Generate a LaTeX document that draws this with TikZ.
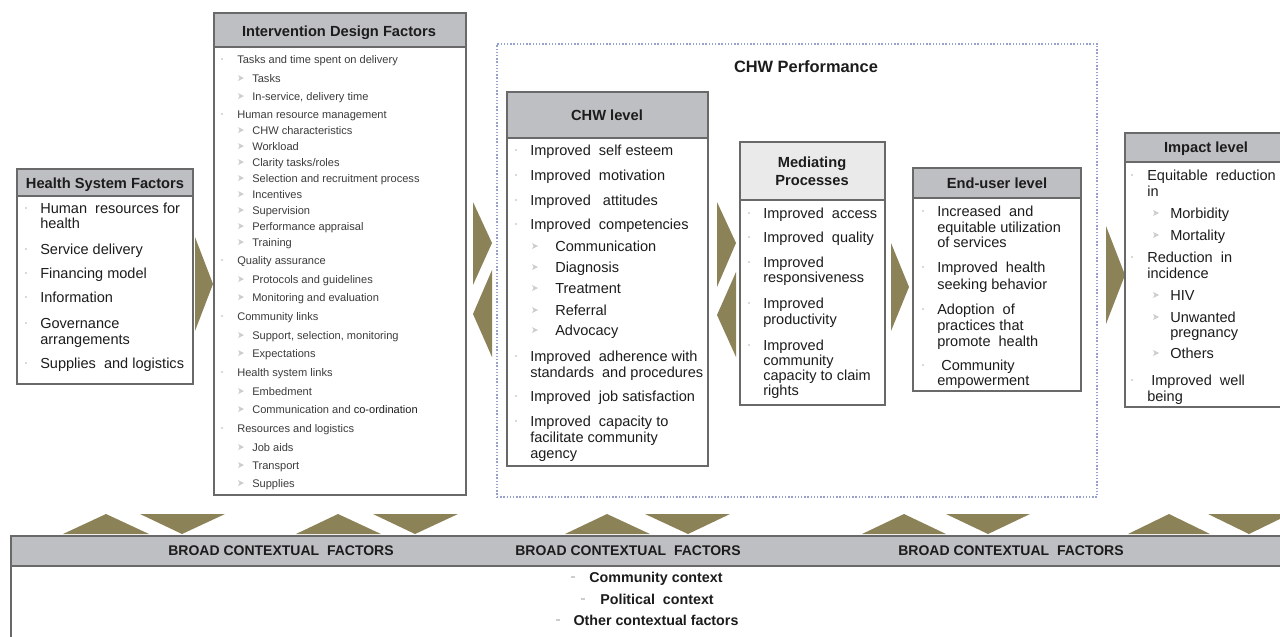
\documentclass[tikz,border=0pt]{standalone}
\usepackage{fontspec}
\setmainfont{Liberation Sans}
\usetikzlibrary{fit}
\definecolor{boxgray}{RGB}{105,105,105}
\definecolor{hdrgray}{RGB}{190,191,195}
\definecolor{hdrlight}{RGB}{234,234,234}
\definecolor{bulgray}{RGB}{205,205,205}
\definecolor{chevcol}{RGB}{140,130,88}
\definecolor{dotcol}{RGB}{150,162,205}
\definecolor{txtmain}{RGB}{28,28,28}
\definecolor{txtsmall}{RGB}{60,60,60}
\newcommand{\bdot}[2]{\fill[bulgray] (#1,#2) circle (0.85pt);}
\newcommand{\barr}[2]{\fill[bulgray] (#1,#2) ++(-3,-3) -- ++(6,3) -- ++(-6,3) -- ++(1.6,-3) -- cycle;}
\begin{document}
\begin{tikzpicture}[x=0.75pt,y=-0.75pt,
  box/.style={draw=boxgray,line width=1.1pt,fill=white,inner sep=0pt},
  hdr/.style={draw=boxgray,line width=1.1pt,fill=hdrgray,inner sep=0pt},
  htxt/.style={anchor=base,inner sep=0pt,text=txtmain,font=\bfseries\fontsize{11}{13}\selectfont},
  itm/.style={anchor=base west,inner sep=0pt,text=txtmain,font=\fontsize{10.9}{13}\selectfont},
  sitm/.style={anchor=base west,inner sep=0pt,text=txtsmall,font=\fontsize{8.3}{10}\selectfont},
  chev/.style={fill=chevcol},
  ctx/.style={anchor=base,inner sep=0pt,text=txtmain,font=\bfseries\fontsize{10.5}{12}\selectfont}]
\useasboundingbox (0,0) rectangle (1280,636);
\clip (0,0) rectangle (1280,636);
\fill[white] (0,0) rectangle (1280,636);

% CHW performance dotted frame
\node[draw=dotcol,line width=0.9pt,dash pattern=on 1.1pt off 1.3pt,inner sep=0pt,fit={(497,44) (1097,497)}] (perf) {};
\node[anchor=base,inner sep=0pt,text=txtmain,font=\bfseries\fontsize{12.3}{14}\selectfont] (perft) at (806,72) {CHW Performance};

% chevrons between boxes
\fill[chev] (195,237) -- (213,284) -- (195,331) -- cycle;
\fill[chev] (473,202) -- (492,243) -- (473,285) -- cycle;
\fill[chev] (492,270) -- (492,357) -- (473,314) -- cycle;
\fill[chev] (717,202) -- (736,243) -- (717,287) -- cycle;
\fill[chev] (736,272) -- (736,357) -- (717,315) -- cycle;
\fill[chev] (891,243) -- (909,287) -- (891,331) -- cycle;
\fill[chev] (1106,226) -- (1125,275) -- (1106,324) -- cycle;

% triangles above contextual band
\fill[chev] (63,534) -- (106,514) -- (149,534) -- cycle;
\fill[chev] (140,514) -- (225,514) -- (182,534) -- cycle;
\fill[chev] (296,534) -- (338,514) -- (381,534) -- cycle;
\fill[chev] (373,514) -- (458,514) -- (415,534) -- cycle;
\fill[chev] (565,534) -- (607,514) -- (650,534) -- cycle;
\fill[chev] (645,514) -- (730,514) -- (688,534) -- cycle;
\fill[chev] (862,534) -- (904,514) -- (946,534) -- cycle;
\fill[chev] (946,514) -- (1030,514) -- (988,534) -- cycle;
\fill[chev] (1128,534) -- (1169,514) -- (1210,534) -- cycle;
\fill[chev] (1208,514) -- (1290,514) -- (1249,534) -- cycle;

% ---------- Health System Factors ----------
\node[box,fit={(17,169) (193,384)}] (hsf) {};
\node[hdr,fit={(17,169) (193,196)}] (hsfh) {};
\node[htxt] (hsft) at (105,188) {Health System Factors};
\bdot{26}{208}\bdot{26}{249}\bdot{26}{273}\bdot{26}{297}\bdot{26}{323}\bdot{26}{363}
\node[itm] (h1) at (40,213) {Human\ \ resources for};
\node[itm] (h1b) at (40,228) {health};
\node[itm] (h2) at (40,254) {Service delivery};
\node[itm] (h3) at (40,278) {Financing model};
\node[itm] (h4) at (40,302) {Information};
\node[itm] (h5) at (40,328) {Governance};
\node[itm] (h5b) at (40,344) {arrangements};
\node[itm] (h6) at (40,368) {Supplies\ \ and logistics};

% ---------- Intervention Design Factors ----------
\node[box,fit={(214,13) (466,495)}] (idf) {};
\node[hdr,fit={(214,13) (466,47)}] (idfh) {};
\node[htxt] (idft) at (339,36) {Intervention Design Factors};
\bdot{222}{59}\bdot{222}{114}\bdot{222}{260}\bdot{222}{316}\bdot{222}{372}\bdot{222}{428}
\barr{241}{78}\barr{241}{96}
\barr{241}{130}\barr{241}{146}\barr{241}{162}\barr{241}{178}\barr{241}{194}\barr{241}{210}\barr{241}{226}\barr{241}{242}
\barr{241}{279}\barr{241}{297}\barr{241}{335}\barr{241}{353}\barr{241}{391}\barr{241}{409}
\barr{241}{447}\barr{241}{465}\barr{241}{483}
\node[sitm] (i1) at (237,63) {Tasks and time spent on delivery};
\node[sitm] (i2) at (252,82) {Tasks};
\node[sitm] (i3) at (252,100) {In-service, delivery time};
\node[sitm] (i4) at (237,118) {Human resource management};
\node[sitm] (i5) at (252,134) {CHW characteristics};
\node[sitm] (i6) at (252,150) {Workload};
\node[sitm] (i7) at (252,166) {Clarity tasks/roles};
\node[sitm] (i8) at (252,182) {Selection and recruitment process};
\node[sitm] (i9) at (252,198) {Incentives};
\node[sitm] (i10) at (252,214) {Supervision};
\node[sitm] (i11) at (252,230) {Performance appraisal};
\node[sitm] (i12) at (252,246) {Training};
\node[sitm] (i13) at (237,264) {Quality assurance};
\node[sitm] (i14) at (252,283) {Protocols and guidelines};
\node[sitm] (i15) at (252,301) {Monitoring and evaluation};
\node[sitm] (i16) at (237,320) {Community links};
\node[sitm] (i17) at (252,339) {Support, selection, monitoring};
\node[sitm] (i18) at (252,357) {Expectations};
\node[sitm] (i19) at (237,376) {Health system links};
\node[sitm] (i20) at (252,395) {Embedment};
\node[sitm] (i21) at (252,413) {Communication and \textcolor{txtmain}{co-ordination}};
\node[sitm] (i22) at (237,432) {Resources and logistics};
\node[sitm] (i23) at (252,451) {Job aids};
\node[sitm] (i24) at (252,469) {Transport};
\node[sitm] (i25) at (252,487) {Supplies};

% ---------- CHW level ----------
\node[box,fit={(507,92) (708,466)}] (chw) {};
\node[hdr,fit={(507,92) (708,138)}] (chwh) {};
\node[htxt] (chwt) at (607,120) {CHW level};
\bdot{516}{150}\bdot{516}{175}\bdot{516}{200}\bdot{516}{224}\bdot{516}{356}\bdot{516}{396}\bdot{516}{421}
\barr{535}{246}\barr{535}{267}\barr{535}{288}\barr{535}{310}\barr{535}{330}
\node[itm] (c1) at (530,155) {Improved\ \ self esteem};
\node[itm] (c2) at (530,180) {Improved\ \ motivation};
\node[itm] (c3) at (530,205) {Improved\ \ \ attitudes};
\node[itm] (c4) at (530,229) {Improved\ \ competencies};
\node[itm] (c5) at (555,251) {Communication};
\node[itm] (c6) at (555,272) {Diagnosis};
\node[itm] (c7) at (555,293) {Treatment};
\node[itm] (c8) at (555,315) {Referral};
\node[itm] (c9) at (555,335) {Advocacy};
\node[itm] (c10) at (530,361) {Improved\ \ adherence with};
\node[itm] (c10b) at (530,377) {standards\ \ and procedures};
\node[itm] (c11) at (530,401) {Improved\ \ job satisfaction};
\node[itm] (c12) at (530,426) {Improved\ \ capacity to};
\node[itm] (c12b) at (530,442) {facilitate community};
\node[itm] (c12c) at (530,458) {agency};

% ---------- Mediating Processes ----------
\node[box,fit={(740,142) (885,405)}] (med) {};
\node[hdr,fill=hdrlight,fit={(740,142) (885,200)}] (medh) {};
\node[htxt] (medt1) at (812,167) {Mediating};
\node[htxt] (medt2) at (812,185) {Processes};
\bdot{749}{213}\bdot{749}{237}\bdot{749}{262}\bdot{749}{303}\bdot{749}{345}
\node[itm] (m1) at (763,218) {Improved\ \ access};
\node[itm] (m2) at (763,242) {Improved\ \ quality};
\node[itm] (m3) at (763,267) {Improved};
\node[itm] (m3b) at (763,282) {responsiveness};
\node[itm] (m4) at (763,308) {Improved};
\node[itm] (m4b) at (763,324) {productivity};
\node[itm] (m5) at (763,350) {Improved};
\node[itm] (m5b) at (763,365) {community};
\node[itm] (m5c) at (763,380) {capacity to claim};
\node[itm] (m5d) at (763,395) {rights};

% ---------- End-user level ----------
\node[box,fit={(913,168) (1081,391)}] (end) {};
\node[hdr,fit={(913,168) (1081,198)}] (endh) {};
\node[htxt] (endt) at (997,188) {End-user level};
\bdot{923}{211}\bdot{923}{267}\bdot{923}{309}\bdot{923}{365}
\node[itm] (e1) at (937,216) {Increased\ \ and};
\node[itm] (e1b) at (937,232) {equitable utilization};
\node[itm] (e1c) at (937,247) {of services};
\node[itm] (e2) at (937,272) {Improved\ \ health};
\node[itm] (e2b) at (937,289) {seeking behavior};
\node[itm] (e3) at (937,314) {Adoption\ \ of};
\node[itm] (e3b) at (937,330) {practices that};
\node[itm] (e3c) at (937,346) {promote\ \ health};
\node[itm] (e4) at (941,370) {Community};
\node[itm] (e4b) at (937,385) {empowerment};

% ---------- Impact level ----------
\node[box,fit={(1125,133) (1284,407)}] (imp) {};
\node[hdr,fit={(1125,133) (1284,162)}] (imph) {};
\node[htxt] (impt) at (1206,152) {Impact level};
\bdot{1132}{175}\bdot{1132}{257}\bdot{1132}{380}
\barr{1156}{213}\barr{1156}{235}\barr{1156}{295}\barr{1156}{317}\barr{1156}{353}
\node[itm] (p1) at (1147,180) {Equitable\ \ reduction};
\node[itm] (p1b) at (1147,196) {in};
\node[itm] (p2) at (1170,218) {Morbidity};
\node[itm] (p3) at (1170,240) {Mortality};
\node[itm] (p4) at (1147,262) {Reduction\ \ in};
\node[itm] (p4b) at (1147,278) {incidence};
\node[itm] (p5) at (1170,300) {HIV};
\node[itm] (p6) at (1170,322) {Unwanted};
\node[itm] (p6b) at (1170,337) {pregnancy};
\node[itm] (p7) at (1170,358) {Others};
\node[itm] (p8) at (1151,385) {Improved\ \ well};
\node[itm] (p8b) at (1147,401) {being};

% ---------- Broad contextual factors ----------
\node[box,fit={(11,536) (1290,645)}] (ctx) {};
\node[hdr,fit={(11,536) (1290,566)}] (ctxh) {};
\node[ctx] (b1) at (281,555) {BROAD CONTEXTUAL\ \ FACTORS};
\node[ctx] (b2) at (628,555) {BROAD CONTEXTUAL\ \ FACTORS};
\node[ctx] (b3) at (1011,555) {BROAD CONTEXTUAL\ \ FACTORS};
\draw[bulgray,line width=0.8pt] (571,577) -- (575,577);
\draw[bulgray,line width=0.8pt] (581,599) -- (585,599);
\draw[bulgray,line width=0.8pt] (556,620) -- (560,620);
\node[ctx,font=\bfseries\fontsize{10.7}{12}\selectfont] (k1) at (656,582) {Community context};
\node[ctx,font=\bfseries\fontsize{10.7}{12}\selectfont] (k2) at (657,604) {Political\ \ context};
\node[ctx,font=\bfseries\fontsize{10.7}{12}\selectfont] (k3) at (656,625) {Other contextual factors};
\end{tikzpicture}
\end{document}
